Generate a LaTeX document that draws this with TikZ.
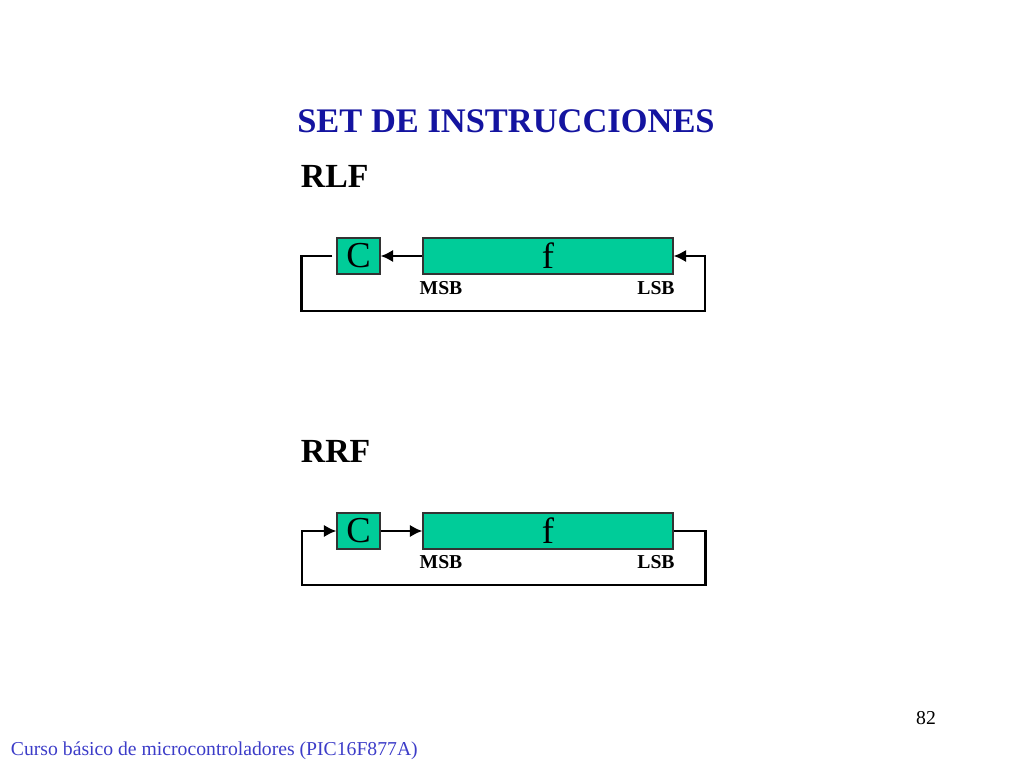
\documentclass[tikz,border=0pt]{standalone}
\usepackage{fontspec}
\setmainfont{Liberation Serif}
\usetikzlibrary{arrows, arrows.meta, positioning}
\definecolor{titleblue}{RGB}{20,20,160}
\definecolor{footblue}{RGB}{60,60,200}
\definecolor{regfill}{RGB}{0,204,153}
\tikzset{>={Latex[length=9pt,width=9pt]}}
\tikzset{
  reg/.style={draw=black!80, fill=regfill, line width=0.8pt, inner sep=0pt},
  bitlbl/.style={font=\fontsize{14}{16}\selectfont\bfseries},
  wire/.style={line width=2.1pt}
}

\begin{document}
\begin{tikzpicture}[x=0.025cm, y=-0.025cm]
        \useasboundingbox (0,0) rectangle (1024,768);
        
        \node[text=titleblue, font=\fontsize{24.5}{28}\selectfont\bfseries] (title) at (506,121) {SET DE INSTRUCCIONES};
        
        % RLF
        \node[anchor=west, font=\fontsize{24}{28}\selectfont\bfseries] (rlf) at (296,176) {RLF};
        \node[reg, minimum width=43*0.025cm, minimum height=36*0.025cm, font=\fontsize{26}{28}\selectfont] (c1) at (358.5,256) {C};
        \node[reg, minimum width=250*0.025cm, minimum height=36*0.025cm, font=\fontsize{26}{28}\selectfont] (f1) at (548,256) {f};
        \node[bitlbl] (msb1) at (441,288) {MSB};
        \node[bitlbl] (lsb1) at (656,288) {LSB};
        \draw[wire, ->] (f1.west) -- (c1.east);
        \draw[wire, ->] ([xshift=-4*0.025cm]c1.west) -- ++(-31,0) |- (302,311) -| (705,256) -- (f1.east);
        
        % RRF
        \node[anchor=west, font=\fontsize{24}{28}\selectfont\bfseries] (rrf) at (296,451) {RRF};
        \node[reg, minimum width=43*0.025cm, minimum height=36*0.025cm, font=\fontsize{26}{28}\selectfont] (c2) at (358.5,531) {C};
        \node[reg, minimum width=250*0.025cm, minimum height=36*0.025cm, font=\fontsize{26}{28}\selectfont] (f2) at (548,531) {f};
        \node[bitlbl] (msb2) at (441,562) {MSB};
        \node[bitlbl] (lsb2) at (656,562) {LSB};
        \draw[wire, ->] (c2.east) -- (f2.west);
        \draw[wire, ->] (f2.east) -- ++(32,0) |- (302,585) |- (c2.west);
        
        \node[font=\fontsize{14}{16}\selectfont] (page) at (926,718) {82};
        \node[anchor=west, text=footblue, font=\fontsize{14}{16}\selectfont] (foot) at (6,751) {Curso básico de microcontroladores (PIC16F877A)};
        \end{tikzpicture}
\end{document}
